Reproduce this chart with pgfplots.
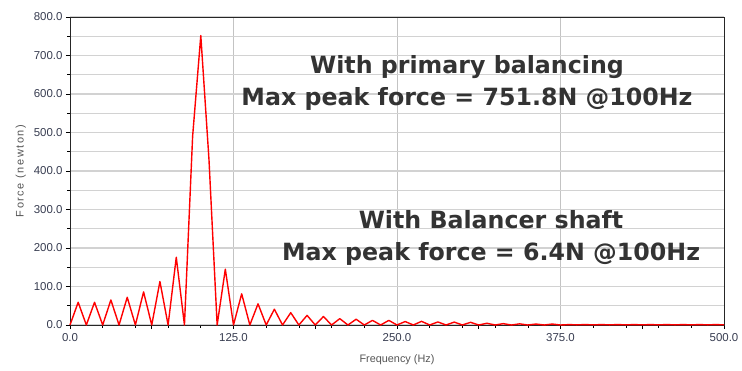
\documentclass[border=0pt]{standalone}
\usepackage{pgfplots}
\pgfplotsset{compat=1.18}
\usepackage{fontspec}
\setmainfont{Liberation Sans}
\newfontfamily\annofont{DejaVu Sans}
\newfontfamily\ylabfont[LetterSpace=14]{Liberation Sans}
\definecolor{tickc}{RGB}{55,60,80}
\definecolor{labc}{RGB}{85,85,85}
\definecolor{annoc}{RGB}{51,51,51}
\definecolor{hgrid}{RGB}{210,210,210}
\definecolor{vgrid}{RGB}{195,195,195}
\begin{document}
\begin{tikzpicture}
\path[use as bounding box] (-70bp,-46bp) rectangle (672bp,325bp);
\begin{axis}[
  at={(0,0)}, anchor=south west,
  scale only axis, width=654bp, height=308bp,
  xmin=0, xmax=500, ymin=0, ymax=800,
  xtick={0,125,250,375,500},
  extra x ticks={62.5,187.5,312.5,437.5},
  extra x tick labels={},
  extra x tick style={grid=none, major tick length=4bp},
  minor x tick num=4,
  ytick={0,100,...,800},
  minor y tick num=1,
  xmajorgrids, ymajorgrids, yminorgrids,
  major grid style={vgrid, line width=0.8bp},
  minor grid style={hgrid, line width=1.3bp},
  tick pos=left,
  tick align=outside,
  major tick length=4bp,
  minor tick length=2.5bp,
  tick style={black, line width=0.6bp},
  axis line style={black!85, line width=0.8bp},
  /pgf/number format/.cd, fixed, fixed zerofill, precision=1, 1000 sep={}, assume math mode=true,
  /pgfplots/.cd,
  ticklabel style={font=\fontsize{11.5}{12}\selectfont, text=tickc},
  xticklabel style={yshift=-1bp},
  xlabel={Frequency (Hz)},
  ylabel={Force (newton)},
  label style={font=\fontsize{10.9}{12}\selectfont, text=labc},
  xlabel style={yshift=2bp},
  ylabel style={yshift=1bp, font=\ylabfont\fontsize{11}{12}\selectfont},
  clip=false,
]
\pgfplotsset{every axis y grid/.style={hgrid, line width=1.3bp}}
\addplot[red, line width=1.4bp, line join=round] coordinates {
(0,0) (6.25,59) (12.5,0) (18.75,59) (25,0) (31.25,65) (37.5,0) (43.75,72)
(50,0) (56.25,86) (62.5,0) (68.75,113) (75,0) (81.25,176) (87.5,0)
(93.75,490) (100,751.8) (106.25,430) (112.5,0) (118.75,145) (125,0)
(131.25,81) (137.5,0) (143.75,55) (150,0) (156.25,41) (162.5,0)
(168.75,32) (175,0) (181.25,25) (187.5,0) (193.75,22) (200,0)
(206.25,16.5) (212.5,0) (218.75,15) (225,0) (231.25,12) (237.5,0)
(243.75,12) (250,0) (256.25,9) (262.5,0) (268.75,9.5) (275,0)
(281.25,8) (287.5,0) (293.75,7.5) (300,0) (306.25,7) (312.5,0)
(318.75,4.5) (325,0) (331.25,3.5) (337.5,0) (343.75,3) (350,0)
(356.25,2.5) (362.5,0) (368.75,2.5) (375,0) (381.25,1) (387.5,0.5)
(393.75,1) (400,0.5) (406.25,1) (412.5,0.5) (418.75,1) (425,0.5)
(431.25,1) (437.5,0.5) (443.75,1) (450,0.5) (456.25,1) (462.5,0.5)
(468.75,1) (475,0.5) (481.25,1) (487.5,0.5) (493.75,1) (500,0.5)
};
\node[anchor=base, font=\annofont\bfseries\fontsize{23.8}{26}\selectfont, text=annoc] at (axis cs:303.5,653.8) {With primary balancing};
\node[anchor=base, font=\annofont\bfseries\fontsize{23.8}{26}\selectfont, text=annoc] at (axis cs:303.5,571.4) {Max peak force = 751.8N @100Hz};
\node[anchor=base, font=\annofont\bfseries\fontsize{23.8}{26}\selectfont, text=annoc] at (axis cs:321.9,251.1) {With Balancer shaft};
\node[anchor=base, font=\annofont\bfseries\fontsize{23.8}{26}\selectfont, text=annoc] at (axis cs:321.9,168.8) {Max peak force = 6.4N @100Hz};
\end{axis}
\end{tikzpicture}
\end{document}
